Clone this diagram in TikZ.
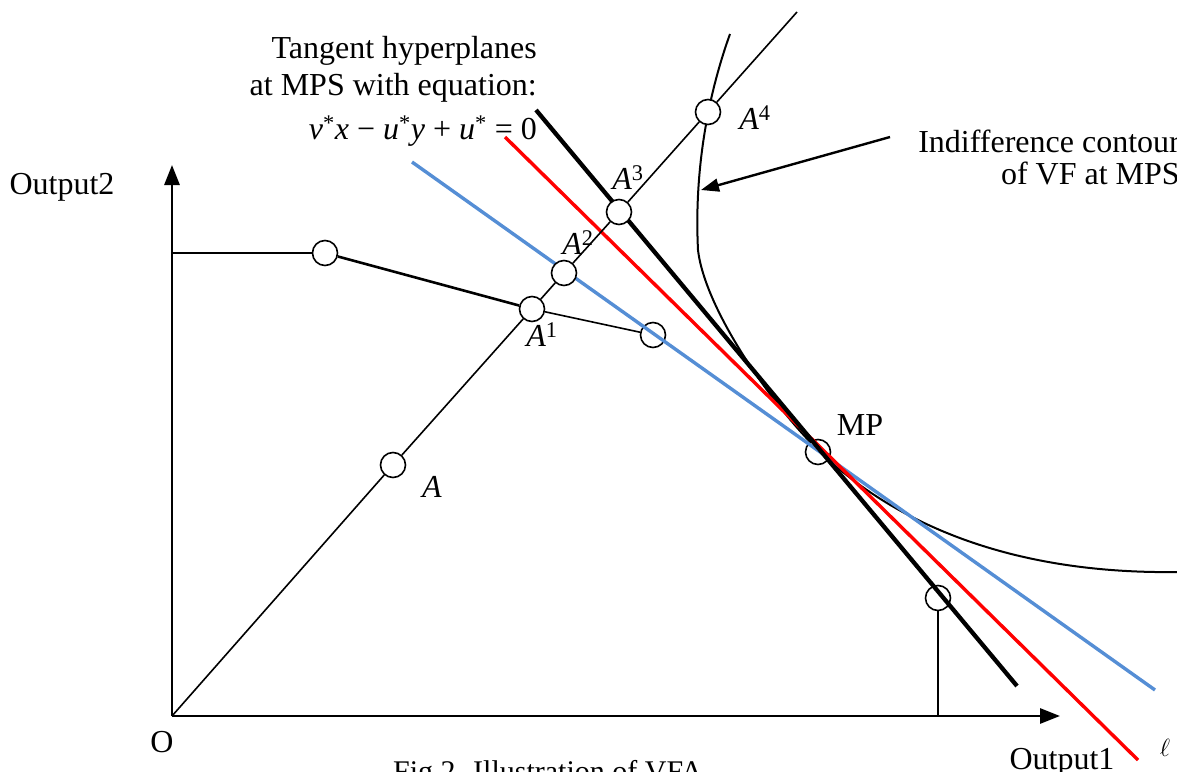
\documentclass[tikz,border=0pt]{standalone}
\usepackage{fontspec}
\setmainfont{Liberation Serif}
\usepackage{xcolor}
\usetikzlibrary{arrows.meta}
\definecolor{planeblue}{RGB}{85,142,213}

\begin{document}
\begin{tikzpicture}[x=1pt,y=-1pt,
  every node/.style={font=\fontsize{32}{37}\selectfont,inner sep=0pt},
  dot/.style={circle,draw,fill=white,line width=1.6pt,minimum size=25pt},
  axis/.style={line width=2.8pt,-{Triangle[length=20pt,width=15pt]}},
  thinline/.style={line width=1.6pt}]
  \useasboundingbox (0,0) rectangle (1177,771);
  \coordinate (O) at (172,716);
  \coordinate (ytop) at (172,165);
  \coordinate (xtop) at (1060,716);
  \draw[axis] (O) -- (ytop);
  \draw[axis] (O) -- (xtop);
  \draw[line width=2pt]
    (730,34) .. controls (708,95) and (694,170) .. (698,250)
             .. controls (705,310) and (773,406) .. (818,450)
             .. controls (880,510) and (990,575) .. (1180,572);
  \node[dot] (f2) at (653,335) {};
  \node[dot] (mp) at (818,452) {};
  \node[dot] (f3) at (938,598) {};
  \coordinate (f3foot) at (938,716);
  \draw[thinline] (f3) -- (f3foot);
  % tangent hyperplanes
  \coordinate (b0) at (412,162);  \coordinate (b1) at (1155,690);
  \coordinate (r0) at (505,137);  \coordinate (r1) at (1138,760);
  \coordinate (k0) at (536,110);  \coordinate (k1) at (1017,686);
  \draw[planeblue,line width=3.4pt] (b0) -- (b1);
  \draw[red,line width=3.4pt] (r0) -- (r1);
  \draw[line width=4.3pt] (k0) -- (k1);
  \node[dot] (a) at (393,465) {};
  \node[dot] (a1) at (532,309) {};
  \node[dot] (a2) at (564,273) {};
  \node[dot] (a3) at (619,212) {};
  \node[dot] (a4) at (708,112) {};
  \node[dot] (f1) at (325,253) {};
  \coordinate (rayend) at (797,12);
  \coordinate (ylev) at (172,253);
  \draw[thinline] (O) -- (a) -- (a1) -- (a2) -- (a3) -- (a4) -- (rayend);
  \draw[thinline] (ylev) -- (f1);
  \draw[line width=2.6pt] (f1) -- (a1);
  \draw[thinline] (a1) -- (f2);
  % labels
  \node (la) at (432,487) {\textit{A}};
  \node (la1) at (542,335) {\textit{A}\textsuperscript{1}};
  \node (la2) at (578,243) {\textit{A}\textsuperscript{2}};
  \node (la3) at (628,178) {\textit{A}\textsuperscript{3}};
  \node (la4) at (755,118) {\textit{A}\textsuperscript{4}};
  \node (lmp) at (860,425) {MP};
  \node (lo) at (162,742) {O};
  \node[anchor=north] (lx) at (1062,748) {Output1};
  \node (ly) at (62,187) {Output2};
  \node (lell) at (1165,748) {$\ell$};
  \node[anchor=base west] (cap) at (393,781) {\fontsize{30}{34}\selectfont Fig 2. Illustration of VFA};
  \node[align=right,anchor=north east] (eq) at (537,36)
    {Tangent hyperplanes\\at MPS with equation:\\[7pt]
     \textit{v}\textsuperscript{*}\textit{x} − \textit{u}\textsuperscript{*}\textit{y} + \textit{u}\textsuperscript{*} = 0};
  \node[align=right,anchor=north east,font=\fontsize{32}{32}\selectfont] (vf) at (1180,130)
    {Indifference contour\\of VF at MPS};
  \coordinate (tail) at (890,137);
  \coordinate (hit) at (701,190);
  \draw[line width=2.4pt,-{Triangle[length=18pt,width=13pt]}] (tail) -- (hit);
\end{tikzpicture}
\end{document}
